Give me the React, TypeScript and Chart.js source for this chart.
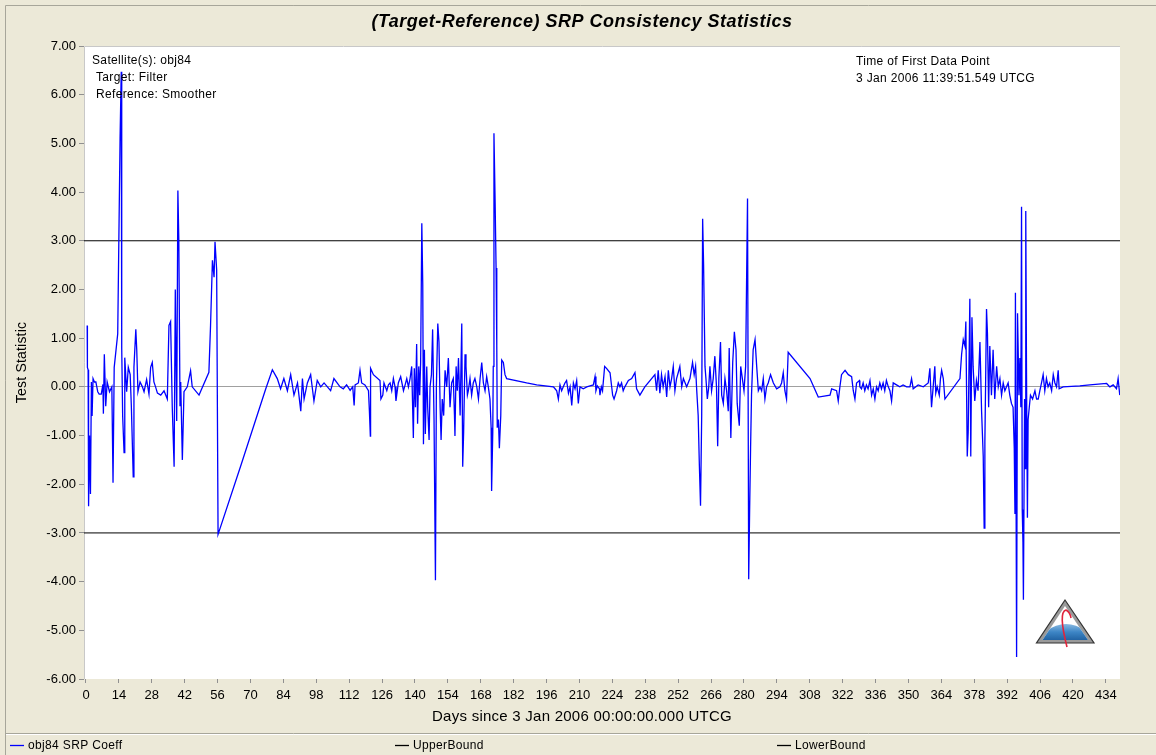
import React, { useEffect, useRef } from 'react';
import { Chart, registerables } from 'chart.js';

Chart.register(...registerables);

// ---- data (days since 3 Jan 2006 00:00 UTCG, test statistic) ----
const srpDays = [
  0.5, 0.6, 0.9, 1.1, 1.5, 1.9, 2.3, 2.6, 3.0, 3.6, 4.2, 4.6, 5.0, 5.6, 6.5, 7.2, 7.4, 7.8, 8.4, 9.0,
  10.0, 11.0, 11.5, 12.0, 13.5, 14.5, 15.0, 15.2, 15.6, 16.2, 16.5, 17.3, 18.0, 18.8, 19.3, 20.1, 20.4, 21.2, 21.6, 22.1,
  23.0, 24.0, 24.7, 25.8, 26.8, 27.5, 28.2, 28.9, 29.6, 30.4, 31.8, 33.2, 34.6, 35.3, 36.0, 36.7, 37.5, 38.0, 38.6, 39.1,
  39.5, 40.0, 40.3, 41.0, 41.7, 43.1, 44.5, 45.2, 48.1, 52.3, 53.0, 53.8, 54.5, 54.9, 55.6, 56.2, 66.0, 76.5, 79.3, 81.4,
  82.8, 84.2, 85.7, 87.1, 88.5, 90.0, 91.4, 92.1, 92.8, 94.2, 95.6, 97.0, 98.4, 99.9, 101.3, 104.1, 105.5, 108.1,
  109.5, 110.9, 112.4, 113.5, 114.1, 114.5, 115.9, 116.6, 117.3, 118.7, 120.2, 120.6, 121.0, 121.1, 122.3, 125.1, 125.5, 126.3, 126.8, 128.0,
  128.7, 129.4, 130.1, 130.8, 131.5, 131.9, 132.9, 133.9, 135.1, 135.8, 136.5, 137.2, 137.9, 138.6, 139.0, 139.3, 139.7, 140.2, 140.7, 141.1,
  141.6, 142.0, 142.4, 142.9, 143.3, 143.6, 144.0, 144.4, 145.0, 145.4, 146.0, 146.4, 147.0, 147.5, 148.1, 148.7, 149.1, 149.7, 150.2, 150.7,
  151.1, 151.6, 152.2, 152.8, 153.5, 154.2, 154.9, 155.6, 156.3, 156.8, 157.0, 157.5, 158.0, 158.5, 159.2, 159.9, 160.3, 160.7, 161.3, 161.7,
  162.3, 162.7, 163.4, 164.1, 164.8, 165.5, 166.3, 167.0, 167.7, 168.4, 169.1, 169.8, 170.5, 171.2, 171.9, 172.4, 172.6, 173.1, 173.3, 173.6,
  174.1, 174.5, 174.8, 175.0, 175.5, 175.9, 176.5, 176.9, 177.6, 178.3, 179.0, 187.5, 191.8, 198.9, 199.6, 200.3, 201.0, 201.7, 202.4, 203.1,
  203.8, 204.5, 205.3, 206.0, 206.7, 207.4, 208.1, 208.8, 209.5, 210.2, 211.6, 213.1, 214.5, 215.9, 216.6, 217.0, 217.6, 218.5,
  218.7, 219.3, 219.8, 220.7, 221.5, 223.0, 224.1, 224.7, 225.8, 226.5, 227.2, 227.9, 228.6, 229.3, 230.8, 232.2, 233.6, 234.3, 235.7, 237.8,
  242.1, 242.8, 243.5, 244.2, 244.9, 245.6, 246.4, 247.1, 247.8, 248.5, 249.2, 249.9, 250.6, 251.3, 252.0, 252.7, 253.5, 254.2, 255.6, 257.0,
  258.1, 258.8, 259.4, 259.8, 260.5, 261.0, 261.5, 262.0, 262.4, 262.8, 263.4, 263.8, 264.4, 265.0, 265.5, 266.2, 266.9, 267.6, 268.3, 268.8,
  269.3, 270.0, 270.5, 271.2, 271.9, 272.6, 273.3, 273.7, 274.4, 275.2, 275.9, 276.6, 277.1, 278.0, 278.6, 279.3, 280.0, 280.7, 281.1, 281.5,
  282.0, 282.4, 282.8, 283.2, 283.9, 284.7, 285.4, 286.1, 286.8, 287.5, 288.2, 288.9, 289.6, 290.3, 291.3, 292.5, 293.9, 295.3, 296.0, 296.7,
  297.4, 298.1, 298.8, 308.1, 311.6, 316.6, 317.3, 319.4, 320.1, 320.8, 321.5, 323.0, 324.4, 325.8, 326.5, 327.2, 327.9, 329.1,
  329.3, 330.0, 330.7, 331.4, 332.1, 332.8, 333.6, 334.3, 335.0, 335.7, 336.4, 337.1, 337.8, 338.5, 339.2, 339.9, 340.6, 341.4, 342.1, 342.8,
  343.5, 344.9, 346.3, 347.7, 349.2, 350.6, 351.3, 352.0, 354.1, 356.3, 358.4, 359.1, 359.8, 360.5, 361.2, 361.6, 362.2, 363.1, 363.6, 364.1,
  364.8, 365.5, 371.9, 372.6, 373.3, 374.0, 374.4, 375.0, 375.4, 376.1, 376.5, 377.0, 377.5, 378.2, 378.9, 379.6, 380.4, 381.1, 381.8, 382.2,
  382.5, 382.9, 383.2, 383.6, 384.1, 384.6, 385.3, 386.0, 386.7, 387.5, 388.2, 388.9, 389.6, 390.3, 391.0, 391.7, 392.4, 393.1, 393.8, 394.5,
  395.0, 395.3, 395.5, 396.0, 396.4, 397.0, 397.4, 397.8, 398.1, 398.4, 398.7, 398.9, 399.4, 399.7, 399.9, 400.2, 400.6, 400.9, 401.4, 401.9,
  402.8, 403.8, 404.5, 405.2, 405.9, 406.6, 407.3, 408.0, 408.7, 409.4, 410.1, 410.9, 411.6, 412.3, 413.0, 413.7, 414.1, 415.8, 422.9, 427.2,
  434.3, 435.7, 437.1, 438.5, 439.2, 439.9,
];

const srpValues = [
  1.26, 0.4, 0.35, -2.45, -1.0, -2.2, 0.1, -0.6, 0.17, 0.1, 0.1, 0.0, -0.1, -0.15, -0.15, 0.05, -0.55, 0.67, -0.4, 0.1,
  -0.1, 0.0, -1.97, 0.4, 1.09, 5.1, 6.47, 0.8, -0.6, -1.35, 0.6, -0.1, 0.4, 0.25, -0.4, -1.85, 0.4, 1.18, 0.75, -0.1,
  0.1, 0.0, -0.1, 0.15, -0.15, 0.4, 0.5, 0.1, 0.0, -0.13, -0.17, -0.08, -0.25, 1.26, 1.34, -0.4, -1.64, 2.0, -0.7, 4.03,
  3.0, -0.4, 0.1, -1.5, -0.1, 0.0, 0.33, 0.0, -0.17, 0.3, 1.26, 2.6, 2.25, 2.98, 2.4, -3.03, -1.6, -0.04, 0.35, 0.17,
  -0.04, 0.17, -0.08, 0.25, -0.17, 0.08, -0.5, 0.17, -0.25, 0.08, 0.25, -0.29, 0.13, 0.0, 0.08, -0.08, 0.17, 0.0,
  -0.04, 0.04, -0.07, 0.0, -0.38, 0.04, 0.08, 0.34, 0.08, 0.04, -0.08, -0.5, -1.01, 0.38, 0.25, 0.13, -0.25, -0.17, 0.08, -0.08,
  0.04, 0.08, -0.08, 0.17, 0.0, -0.29, 0.08, 0.21, -0.08, 0.04, 0.17, 0.0, 0.17, 0.42, -0.42, -1.05, 0.38, -0.42, 0.88, -0.76,
  0.42, -0.17, 0.5, 3.36, 2.1, -1.18, 0.76, -0.97, 0.42, -0.42, -1.09, 0.0, 0.25, 1.18, -0.67, -3.97, 0.0, 1.3, 0.92, -0.42,
  -1.09, -0.25, -0.59, 0.34, 0.0, 0.59, -0.42, 0.08, 0.17, -0.59, -1.01, 0.42, -0.08, 0.59, -0.59, 1.3, -1.64, -0.92, 0.67, 0.42,
  -0.17, -0.08, 0.17, -0.17, 0.08, 0.17, 0.0, -0.25, 0.17, 0.5, 0.08, -0.08, 0.21, 0.0, -0.25, -0.84, -2.14, -0.92, 0.42, 5.21,
  3.78, 2.44, 0.84, -0.84, -0.67, -1.26, -0.59, 0.55, 0.5, 0.25, 0.17, 0.08, 0.04, 0.0, -0.04, -0.08, -0.25, 0.04, -0.08, 0.0,
  0.08, 0.13, -0.13, 0.0, -0.38, 0.08, -0.04, 0.13, -0.34, 0.0, -0.04, 0.0, 0.02, 0.04, 0.21, -0.08, 0.02, -0.04,
  -0.17, 0.0, -0.08, 0.42, 0.38, 0.29, -0.17, -0.25, -0.08, 0.08, 0.0, 0.08, -0.08, 0.0, 0.13, 0.17, 0.29, -0.04, -0.17, 0.0,
  0.25, -0.08, 0.34, -0.13, 0.25, 0.0, 0.21, -0.21, 0.34, 0.0, 0.17, 0.42, -0.08, 0.17, 0.29, 0.42, 0.0, 0.17, 0.0, 0.17,
  0.5, 0.25, 0.42, 0.0, -0.59, -1.6, -2.44, -0.59, 3.45, 2.52, 0.42, 0.17, -0.25, 0.0, 0.42, -0.08, 0.17, 0.63, 0.0, -1.22,
  0.17, 0.92, -0.17, -0.34, 0.17, -0.08, -0.5, 0.8, -1.05, 0.5, 1.13, 0.76, -0.34, -0.8, 0.42, 0.17, -0.08, 0.42, 2.18, 3.87,
  -3.95, -2.52, -1.26, -0.17, 0.76, 0.97, 0.42, -0.08, 0.0, -0.08, 0.17, -0.25, 0.0, 0.08, 0.25, 0.08, -0.04, 0.0, 0.08, 0.29,
  -0.08, -0.25, 0.71, 0.17, -0.21, -0.17, -0.04, -0.08, -0.29, 0.0, 0.25, 0.34, 0.25, 0.21, -0.08, -0.25, 0.08, 0.13,
  0.0, -0.04, 0.08, -0.08, 0.04, -0.04, 0.13, -0.17, -0.04, -0.25, 0.0, -0.08, 0.08, -0.04, 0.08, -0.08, 0.13, 0.0, -0.08, -0.29,
  0.08, 0.04, 0.0, 0.04, 0.0, 0.0, 0.17, -0.04, 0.04, 0.0, 0.08, 0.38, -0.42, 0.0, 0.42, -0.13, 0.0, -0.17, 0.17, 0.34,
  0.17, -0.25, 0.17, 0.67, 0.97, 0.84, 1.34, -1.43, -0.92, 1.81, -1.43, 1.43, 0.42, -0.29, 0.13, -0.08, 0.92, -0.5, -1.43, -2.9,
  -1.13, 0.42, 1.6, 1.09, -0.42, 0.84, -0.17, 0.76, -0.25, 0.42, 0.0, 0.17, -0.17, 0.08, -0.08, 0.0, 0.08, -0.17, -0.34, -0.42,
  -1.26, -2.61, 1.93, -5.55, 1.51, -0.17, 0.59, -0.42, 3.7, -2.52, -3.19, -4.37, -0.25, -1.68, 3.61, 0.42, -2.69, -0.67, -0.42, -0.17,
  -0.25, -0.08, -0.25, -0.25, -0.08, 0.08, 0.25, -0.08, 0.17, 0.0, 0.08, -0.08, 0.25, 0.08, 0.0, 0.34, -0.04, 0.0, 0.02, 0.04,
  0.07, 0.0, 0.04, -0.04, 0.17, -0.17,
];

const boundDays = [-0.85, 440];
const upperBound = [3, 3];
const lowerBound = [-3, -3];
const xTickValues = [0, 14, 28, 42, 56, 70, 84, 98, 112, 126, 140, 154, 168, 182, 196, 210, 224, 238, 252, 266, 280, 294, 308, 322, 336, 350, 364, 378, 392, 406, 420, 434];
const yTickValues = [7, 6, 5, 4, 3, 2, 1, 0, -1, -2, -3, -4, -5, -6];

const FONT = '"Liberation Sans", Arial, sans-serif';

function spaced(ctx: any, px: number) {
  try {
    ctx.letterSpacing = `${px}px`;
  } catch (e) {
    /* ignore */
  }
}

export default function App() {
  const ref = useRef<HTMLCanvasElement>(null);

  useEffect(() => {
    const canvas = ref.current;
    if (!canvas) return;

    const decor = {
      id: 'decor',
      beforeDraw(chart: any) {
        const { ctx, chartArea: a } = chart;
        ctx.save();
        ctx.fillStyle = '#ECE9D8';
        ctx.fillRect(0, 0, 1156, 755);
        ctx.strokeStyle = '#A7A69A';
        ctx.lineWidth = 1;
        ctx.beginPath();
        ctx.moveTo(5.5, 755);
        ctx.lineTo(5.5, 5.5);
        ctx.lineTo(1156, 5.5);
        ctx.stroke();
        ctx.fillStyle = '#FFFFFF';
        ctx.fillRect(a.left, a.top, a.right - a.left, a.bottom - a.top);
        ctx.strokeStyle = '#C8C8C8';
        ctx.beginPath();
        ctx.moveTo(a.left + 0.5, a.bottom);
        ctx.lineTo(a.left + 0.5, a.top + 0.5);
        ctx.lineTo(a.right, a.top + 0.5);
        ctx.stroke();
        ctx.restore();
      },
      afterDraw(chart: any) {
        const { ctx, chartArea: a } = chart;
        ctx.save();
        ctx.fillStyle = '#000';
        ctx.textBaseline = 'middle';
        // title
        ctx.textAlign = 'center';
        ctx.font = `italic bold 18px ${FONT}`;
        spaced(ctx, 0.5);
        ctx.fillText('(Target-Reference) SRP Consistency Statistics', 582, 22);
        // axis titles
        ctx.font = `15px ${FONT}`;
        spaced(ctx, 0.25);
        ctx.fillText('Days since 3 Jan 2006 00:00:00.000 UTCG', 582, 717);
        ctx.save();
        ctx.translate(22, (a.top + a.bottom) / 2);
        ctx.rotate(-Math.PI / 2);
        ctx.font = `14px ${FONT}`;
        spaced(ctx, 0.2);
        ctx.fillText('Test Statistic', 0, 0);
        ctx.restore();
        // annotations
        ctx.textAlign = 'left';
        ctx.font = `12px ${FONT}`;
        spaced(ctx, 0.35);
        ctx.fillText('Satellite(s): obj84', 92, 61);
        ctx.fillText('Target: Filter', 96, 78);
        ctx.fillText('Reference: Smoother', 96, 95);
        ctx.fillText('Time of First Data Point', 856, 62);
        ctx.fillText('3 Jan 2006 11:39:51.549 UTCG', 856, 79);
        // legend
        ctx.strokeStyle = '#A7A69A';
        ctx.lineWidth = 1;
        ctx.beginPath();
        ctx.moveTo(6, 733.5);
        ctx.lineTo(1156, 733.5);
        ctx.stroke();
        ctx.strokeStyle = '#FFFFFF';
        ctx.beginPath();
        ctx.moveTo(6, 734.5);
        ctx.lineTo(1156, 734.5);
        ctx.stroke();
        const items = chart.data.datasets.map((d: any) => ({ label: d.label, color: d.borderColor }));
        const xs = [10, 395, 777];
        items.forEach((it: any, i: number) => {
          ctx.strokeStyle = it.color;
          ctx.lineWidth = 1.3;
          ctx.beginPath();
          ctx.moveTo(xs[i], 745.5);
          ctx.lineTo(xs[i] + 14, 745.5);
          ctx.stroke();
          ctx.fillStyle = '#000';
          ctx.font = `12px ${FONT}`;
          ctx.fillText(it.label, xs[i] + 18, 746);
        });
        spaced(ctx, 0);
        // logo
        const ax = 1065, ay = 600, bl = 1036.5, br = 1094, by = 643;
        ctx.beginPath();
        ctx.moveTo(ax, ay);
        ctx.lineTo(br, by);
        ctx.lineTo(bl, by);
        ctx.closePath();
        ctx.fillStyle = '#9A9A9A';
        ctx.fill();
        ctx.strokeStyle = '#333';
        ctx.lineWidth = 1.2;
        ctx.stroke();
        ctx.beginPath();
        ctx.moveTo(ax, ay + 6);
        ctx.lineTo(br - 6, by - 3);
        ctx.lineTo(bl + 6, by - 3);
        ctx.closePath();
        ctx.fillStyle = '#FFFFFF';
        ctx.fill();
        ctx.save();
        ctx.clip();
        const g = ctx.createLinearGradient(0, 622, 0, 642);
        g.addColorStop(0, '#9CC6E8');
        g.addColorStop(0.5, '#3D86C6');
        g.addColorStop(1, '#1B5A9A');
        ctx.fillStyle = g;
        ctx.beginPath();
        ctx.ellipse(1066, 646, 26, 22, 0, Math.PI, 2 * Math.PI);
        ctx.fill();
        ctx.restore();
        ctx.strokeStyle = '#E0243C';
        ctx.lineWidth = 1.6;
        ctx.beginPath();
        ctx.moveTo(1067, 647);
        ctx.quadraticCurveTo(1058, 612, 1066, 610);
        ctx.quadraticCurveTo(1070, 612, 1071, 618);
        ctx.stroke();
        ctx.restore();
      },
    };

    const chart = new Chart(canvas, {
      type: 'line',
      data: {
        datasets: [
          {
            label: 'obj84 SRP Coeff',
            data: srpDays.map((d, i) => ({ x: d, y: srpValues[i] })),
            borderColor: '#0000FF',
            borderWidth: 1.3,
            pointRadius: 0,
            tension: 0,
          },
          {
            label: 'UpperBound',
            data: boundDays.map((d, i) => ({ x: d, y: upperBound[i] })),
            borderColor: '#000000',
            borderWidth: 1,
            pointRadius: 0,
          },
          {
            label: 'LowerBound',
            data: boundDays.map((d, i) => ({ x: d, y: lowerBound[i] })),
            borderColor: '#000000',
            borderWidth: 1,
            pointRadius: 0,
          },
        ],
      },
      options: {
        animation: false,
        responsive: false,
        layout: { padding: { left: 0, right: 36, top: 46, bottom: 0 } },
        plugins: {
          legend: { display: false },
          title: { display: false },
          tooltip: { enabled: false },
        },
        scales: {
          x: {
            type: 'linear',
            min: -0.85,
            max: 440,
            afterBuildTicks: (s: any) => {
              s.ticks = xTickValues.map((v) => ({ value: v }));
            },
            afterFit: (s: any) => {
              s.height = 76;
            },
            grid: { drawOnChartArea: false, drawTicks: true, tickLength: 4, color: '#909090' },
            border: { display: false },
            ticks: {
              color: '#000',
              font: { family: FONT, size: 13 },
              padding: 5,
              maxRotation: 0,
              autoSkip: false,
              callback: (v: any) => String(v),
            },
          },
          y: {
            type: 'linear',
            min: -6,
            max: 7,
            afterBuildTicks: (s: any) => {
              s.ticks = yTickValues.map((v) => ({ value: v }));
            },
            afterFit: (s: any) => {
              s.width = 84;
            },
            grid: {
              color: (c: any) => (c.tick && c.tick.value === 0 ? '#A0A0A0' : 'rgba(0,0,0,0)'),
              tickColor: '#909090',
              drawTicks: true,
              tickLength: 5,
            },
            border: { display: false },
            ticks: {
              color: '#000',
              font: { family: FONT, size: 13 },
              padding: 3,
              callback: (v: any) => Number(v).toFixed(2),
            },
          },
        },
      },
      plugins: [decor],
    } as any);

    return () => chart.destroy();
  }, []);

  return (
    <div style={{ position: 'absolute', left: 0, top: 0, width: 1156, height: 755 }}>
      <canvas ref={ref} width={1156} height={755} style={{ display: 'block' }} />
    </div>
  );
}
